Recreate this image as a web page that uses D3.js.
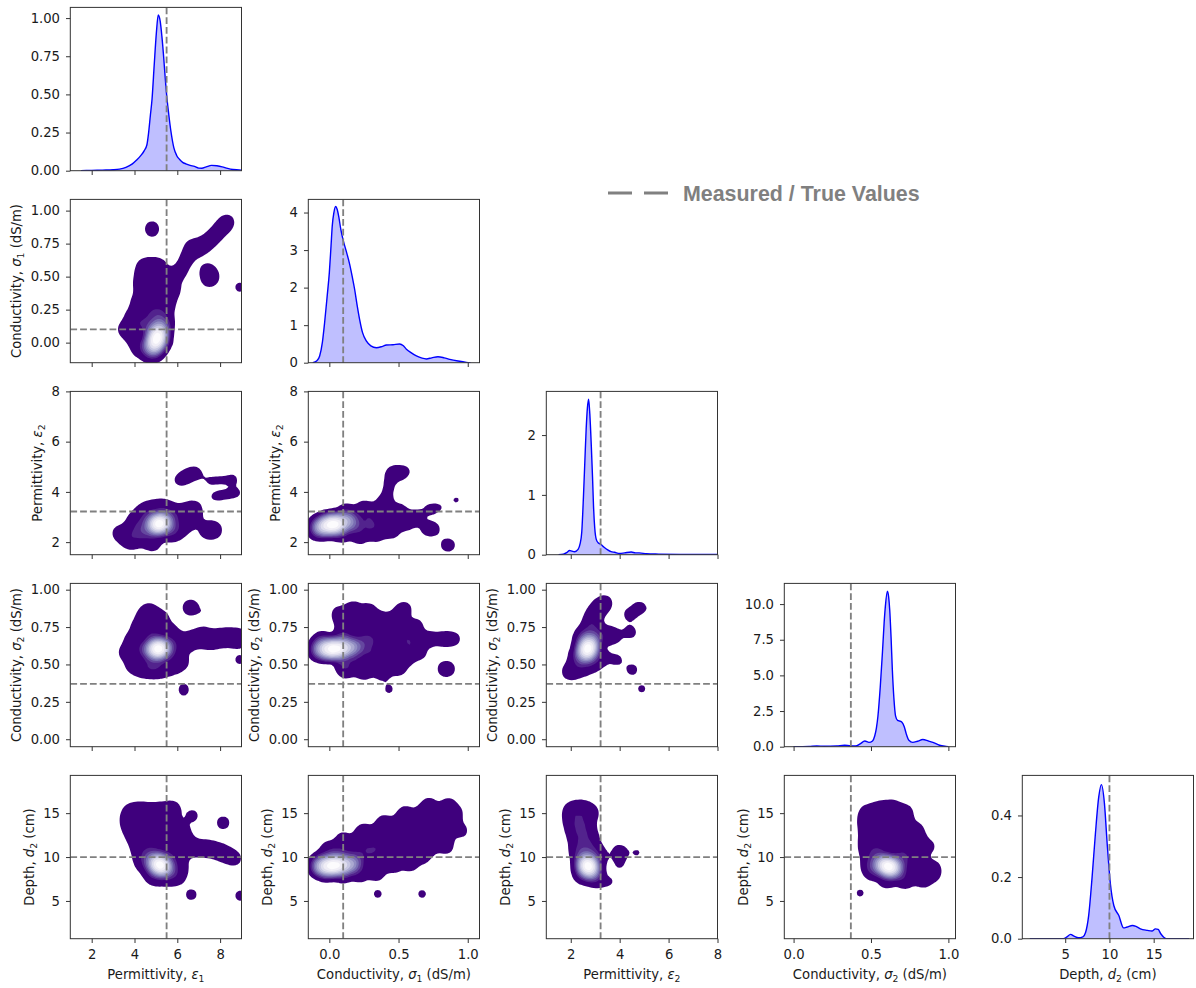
<!DOCTYPE html>
<html>
<head>
<meta charset="utf-8">
<script src="https://cdn.jsdelivr.net/npm/d3@7"></script>
<style>
  body { margin: 0; background: #fff; }
  svg { display: block; }
</style>
</head>
<body>
<svg id="chart" width="1196" height="988"></svg>
<script>
// ---- parameters -------------------------------------------------------
const axisName    = ["Permittivity, ", "Conductivity, ", "Permittivity, ", "Conductivity, ", "Depth, "];
const axisSymbol  = ["ε", "σ", "ε", "σ", "d"];
const axisSub     = ["1", "1", "2", "2", "2"];
const axisUnit    = ["", " (dS/m)", "", " (dS/m)", " (cm)"];
const trueValues  = [5.5, 0.1, 3.22, 0.37, 10];

// axis ranges and ticks
const xDomains     = [[1, 9], [-0.152, 1.085], [1, 8], [-0.06, 1.046], [0.15, 19.5]];
const yDomains     = [null, [-0.152, 1.085], [1.5, 8], [-0.05, 1.042], [0.7, 19.3]];
const xTickValues  = [[2, 4, 6, 8], [0, 0.5, 1], [2, 4, 6, 8], [0, 0.5, 1], [5, 10, 15]];
const xTickFormat  = ["d", ".1f", "d", ".1f", "d"];
const yTickValues  = [null, [0, 0.25, 0.5, 0.75, 1], [2, 4, 6, 8], [0, 0.25, 0.5, 0.75, 1], [5, 10, 15]];
const yTickFormat  = [null, ".2f", "d", ".2f", "d"];
const diagYDomains = [[0, 1.07], [0, 4.35], [0, 2.73], [0, 11.45], [0, 0.53]];
const diagTicks    = [[0, 0.25, 0.5, 0.75, 1], [0, 1, 2, 3, 4], [0, 1, 2], [0, 2.5, 5, 7.5, 10], [0, 0.2, 0.4]];
const diagFormat   = [".2f", "d", "d", ".1f", ".1f"];

// ---- marginal densities [value, density] -----------------------------
const eps1Density = [[1.5,0],[2.0,0.002],[2.5,0.004],[3.0,0.006],[3.3,0.01],[3.6,0.022],[3.9,0.045],[4.1,0.07],[4.3,0.1],[4.45,0.13],[4.58,0.17],[4.66,0.25],[4.74,0.36],[4.82,0.47],[4.92,0.69],[5.02,0.9],[5.11,1.02],[5.2,0.98],[5.28,0.88],[5.36,0.75],[5.44,0.6],[5.52,0.47],[5.6,0.37],[5.7,0.26],[5.84,0.15],[5.97,0.1],[6.1,0.075],[6.25,0.055],[6.4,0.045],[6.6,0.035],[6.8,0.028],[7.0,0.017],[7.15,0.016],[7.35,0.025],[7.6,0.035],[7.85,0.032],[8.1,0.025],[8.35,0.015],[8.6,0.008],[9.0,0.004]];
const sig1Density = [[-0.12,0],[-0.09,0.05],[-0.07,0.18],[-0.05,0.55],[-0.034,1.07],[-0.015,1.8],[0.0,2.4],[0.012,3.1],[0.021,3.64],[0.033,4.0],[0.045,4.16],[0.057,4.08],[0.069,3.87],[0.083,3.55],[0.098,3.29],[0.12,3.0],[0.147,2.62],[0.165,2.3],[0.183,1.95],[0.2,1.55],[0.219,1.15],[0.24,0.8],[0.267,0.58],[0.3,0.45],[0.34,0.4],[0.38,0.43],[0.412,0.47],[0.46,0.48],[0.508,0.5],[0.535,0.45],[0.557,0.36],[0.59,0.27],[0.629,0.18],[0.67,0.12],[0.701,0.1],[0.74,0.13],[0.785,0.16],[0.83,0.13],[0.87,0.09],[0.93,0.045],[0.99,0.01],[1.02,0]];
const eps2Density = [[1.5,0],[1.7,0.01],[1.85,0.04],[1.95,0.07],[2.05,0.06],[2.15,0.05],[2.3,0.09],[2.38,0.18],[2.45,0.38],[2.52,0.98],[2.58,1.6],[2.63,2.1],[2.68,2.45],[2.73,2.6],[2.78,2.35],[2.84,1.82],[2.89,1.3],[2.93,0.82],[2.98,0.45],[3.04,0.26],[3.12,0.2],[3.24,0.17],[3.35,0.13],[3.51,0.08],[3.65,0.05],[3.79,0.04],[4.0,0.02],[4.2,0.03],[4.47,0.045],[4.65,0.03],[4.8,0.03],[5.1,0.015],[5.6,0.01],[6.5,0.005],[8.0,0.003]];
const sig2Density = [[0.0,0],[0.1,0.02],[0.15,0.05],[0.2,0.03],[0.28,0.06],[0.33,0.1],[0.36,0.07],[0.4,0.05],[0.43,0.2],[0.46,0.4],[0.487,0.3],[0.51,0.4],[0.524,0.75],[0.535,1.3],[0.545,2.15],[0.56,4.2],[0.574,6.6],[0.585,8.7],[0.593,9.86],[0.606,10.9],[0.614,10.5],[0.621,9.6],[0.63,7.6],[0.638,5.4],[0.648,3.4],[0.659,2.15],[0.672,1.85],[0.685,1.8],[0.7,1.72],[0.715,1.4],[0.728,0.9],[0.745,0.45],[0.77,0.3],[0.8,0.38],[0.835,0.5],[0.87,0.4],[0.9,0.3],[0.943,0.1],[0.985,0.02],[1.0,0]];
const d2Density   = [[1.0,0],[4.8,0],[5.2,0.006],[5.6,0.014],[6.0,0.008],[6.5,0.003],[7.0,0.006],[7.3,0.02],[7.65,0.075],[8.04,0.2],[8.41,0.34],[8.79,0.46],[9.09,0.5],[9.43,0.44],[9.74,0.31],[10.1,0.18],[10.5,0.107],[11.06,0.075],[11.6,0.035],[12.0,0.038],[12.6,0.043],[13.0,0.04],[13.5,0.032],[14.3,0.027],[14.8,0.025],[15.2,0.032],[15.5,0.03],[15.8,0.016],[16.4,0],[19.0,0]];

// ---- joint posterior samples [x, y, weight] ---------------------------
const sig1VsEps1 = [
  [4.9,-0.04,6],[4.98,0.0,10],[5.05,0.04,12],[5.12,0.08,8],[5.2,0.12,5],
  [4.55,-0.02,1.8],[4.8,-0.09,1.5],[5.35,0.02,1.5],[4.6,0.12,1.8],[4.95,0.2,1.8],[5.3,0.22,1.5],[4.4,0.22,1.2],[4.8,0.3,1.2],
  [4.2,-0.05,0.8],[3.95,0.03,0.8],[3.55,0.1,0.8],[3.95,0.12,0.8],[4.2,0.14,0.8],[3.9,0.2,0.8],[5.45,0.16,0.8],[5.6,0.3,0.8],
  [4.15,0.3,0.8],[4.5,0.34,0.8],[5.1,0.34,0.8],[5.45,0.38,0.8],[5.8,0.4,0.8],[4.3,0.42,0.8],[4.7,0.42,0.8],[5.1,0.44,0.8],
  [4.35,0.5,0.8],[4.75,0.5,0.8],[5.15,0.52,0.8],[5.55,0.48,0.8],[5.9,0.5,0.8],[4.45,0.58,0.8],[4.85,0.58,0.8],[5.15,0.57,0.8],
  [6.2,0.56,0.7],[6.45,0.64,0.7],[6.65,0.72,0.7],[6.95,0.71,0.7],[7.25,0.74,0.7],[7.55,0.78,0.7],[7.85,0.83,0.7],[8.15,0.88,0.7],[8.35,0.92,0.6],
  [4.82,0.84,0.45],[4.82,0.88,0.45],
  [7.4,0.55,0.7],[7.6,0.5,0.7],[7.45,0.47,0.5],
  [8.92,0.42,0.55],[8.69,0.274,0.4]
];
const eps2VsEps1 = [
  [4.95,2.68,6],[5.1,2.72,11],[5.25,2.76,9],[5.4,2.8,4],
  [4.5,2.6,1.8],[4.7,2.9,1.5],[5.6,2.85,1.5],[5.7,2.6,1.5],[4.3,2.4,1.2],[5.3,3.1,1.2],[5.0,2.4,1.5],
  [3.3,2.35,0.8],[3.7,2.3,0.8],[3.75,2.05,0.8],[4.05,2.1,0.8],[4.0,2.55,0.8],[4.0,2.85,0.8],[4.3,3.1,0.8],[4.6,3.3,0.8],
  [5.0,3.35,0.8],[5.4,3.4,0.8],[5.8,3.2,0.8],[6.1,3.05,0.8],[6.4,3.2,0.8],[6.75,3.35,0.8],[6.8,3.0,0.8],[6.5,2.8,0.8],
  [6.2,2.55,0.8],[5.9,2.4,0.8],[5.6,2.35,0.8],[4.5,2.25,0.8],
  [4.7,1.92,0.45],[4.95,1.92,0.45],
  [7.35,2.48,0.6],[7.55,2.48,0.7],[7.75,2.48,0.6],
  [6.05,4.45,0.4],[6.35,4.58,0.45],[6.65,4.7,0.45],[6.92,4.8,0.35],
  [7.38,4.45,0.2],[7.52,4.45,0.2],[7.95,4.5,0.2],[8.09,4.5,0.2],[8.55,4.52,0.24],[8.7,4.53,0.24],
  [7.45,3.78,0.15],[7.65,3.8,0.15],[7.85,3.81,0.15],[8.05,3.83,0.15],[8.25,3.85,0.15],[8.45,3.88,0.15],[8.65,3.91,0.15],[8.85,3.94,0.15],[9.0,3.96,0.15]
];
const eps2VsSig1 = [
  [-0.07,2.6,5],[-0.02,2.66,9],[0.03,2.71,11],[0.08,2.76,8],[0.14,2.81,4],
  [-0.08,2.5,1.5],[0.05,2.5,1.8],[0.2,2.65,1.8],[0.15,2.95,1.5],[0.0,2.9,1.2],[0.3,2.8,1.2],
  [0.1,2.3,0.8],[0.22,2.2,0.8],[0.34,2.3,0.8],[0.45,2.45,0.8],[0.3,2.55,0.8],[0.42,2.65,0.8],[0.55,2.75,0.8],
  [0.5,2.95,0.8],[0.62,3.0,0.8],[0.4,3.0,0.8],[0.28,3.15,0.8],[0.12,3.25,0.8],[0.25,3.35,0.8],[0.38,3.4,0.8],[0.5,3.25,0.8],
  [0.41,3.65,0.4],[0.42,3.95,0.32],[0.43,4.25,0.32],[0.44,4.55,0.32],[0.44,4.85,0.32],
  [0.5,4.9,0.32],[0.57,4.88,0.3],[0.53,4.57,0.3],
  [0.72,3.3,0.5],[0.8,3.38,0.4],
  [0.7,2.52,0.55],[0.76,2.52,0.55],
  [0.84,1.88,0.4],[0.875,1.88,0.4],
  [0.918,3.68,0.45],[0.267,4.45,0.35]
];
const sig2VsEps1 = [
  [4.85,0.6,5],[5.02,0.603,10],[5.18,0.606,11],[5.35,0.61,5],
  [4.5,0.6,1.8],[5.6,0.62,1.5],[5.0,0.7,1.5],[5.1,0.52,1.5],[4.6,0.72,1.2],[4.7,0.5,1.2],
  [3.6,0.58,0.8],[3.9,0.5,0.8],[4.25,0.47,0.8],[4.7,0.46,0.8],[5.15,0.46,0.8],[5.55,0.48,0.8],[5.9,0.5,0.8],[6.2,0.52,0.8],
  [3.85,0.66,0.8],[4.15,0.74,0.8],[4.4,0.81,0.8],[4.65,0.86,0.8],[4.95,0.82,0.8],[5.3,0.8,0.8],[5.7,0.72,0.8],[6.0,0.66,0.8],
  [6.3,0.62,0.8],[6.6,0.67,0.8],[6.9,0.66,0.8],[7.2,0.7,0.8],[7.5,0.65,0.8],[7.8,0.68,0.8],[8.1,0.67,0.8],[8.4,0.69,0.8],
  [8.7,0.67,0.8],[9.0,0.68,0.8],[4.2,0.6,0.8],[5.8,0.58,0.8],
  [6.55,0.88,0.5],[6.7,0.88,0.5],[7.38,0.835,0.4],[8.92,0.532,0.55],[6.3,0.355,0.35],[6.3,0.305,0.35]
];
const sig2VsSig1 = [
  [-0.07,0.6,5],[-0.01,0.6,9],[0.04,0.605,11],[0.1,0.61,8],[0.16,0.615,4],
  [-0.05,0.66,1.5],[0.1,0.52,1.5],[0.2,0.62,1.8],[0.1,0.7,1.5],[0.3,0.66,1.2],
  [0.12,0.46,1],[0.25,0.45,1],[0.38,0.45,1],[0.5,0.48,1],[0.56,0.55,1],[0.3,0.55,1],[0.45,0.6,1],[0.6,0.64,1],
  [0.72,0.67,0.9],[0.82,0.67,0.8],[0.9,0.67,0.7],[0.38,0.7,1],[0.5,0.72,1],[0.62,0.75,1],[0.2,0.78,1],[0.35,0.8,1],
  [0.1,0.8,1],[0.17,0.87,0.9],[0.28,0.86,0.9],[0.5,0.82,0.9],[0.54,0.87,0.8],[0.07,0.84,0.7],
  [0.25,0.62,1],[0.36,0.58,1],[0.55,0.66,1],[0.45,0.52,1],[0.65,0.58,0.8],[0.42,0.78,1],[0.25,0.72,1],[0.2,0.52,1],
  [0.83,0.47,0.55],[0.86,0.47,0.55],[0.43,0.335,0.5]
];
const sig2VsEps2 = [
  [2.6,0.57,5],[2.67,0.595,10],[2.74,0.625,9],[2.8,0.655,4],
  [2.45,0.55,1.5],[2.55,0.68,1.5],[2.85,0.6,1.2],[2.9,0.75,1.2],
  [1.95,0.45,0.8],[2.2,0.47,0.8],[2.2,0.55,0.8],[2.5,0.48,0.8],[2.8,0.5,0.8],[3.05,0.52,0.8],[3.25,0.56,0.8],[2.4,0.64,0.8],
  [2.65,0.72,0.8],[3.0,0.66,0.8],[3.2,0.7,0.8],[3.45,0.7,0.8],[3.75,0.69,0.8],[2.85,0.8,0.8],[3.0,0.84,0.8],[3.15,0.88,0.8],[3.4,0.91,0.8],
  [3.86,0.532,0.6],[4.4,0.834,0.6],[4.81,0.879,0.65],[5.51,0.863,0.4],[4.43,0.715,0.65],[4.51,0.465,0.6],[4.9,0.337,0.5]
];
const d2VsEps1 = [
  [4.95,9.5,5],[5.07,9.3,9],[5.2,9.1,11],[5.33,8.9,8],[5.45,8.7,4],
  [4.6,9.8,1.8],[4.8,10.8,1.5],[5.5,9.8,1.5],[5.0,8.3,1.5],[4.7,8.8,1.2],[5.7,8.6,1.2],[4.6,12.0,1.0],[5.2,11.5,1.0],
  [3.8,15.2,0.8],[4.2,15.3,0.8],[4.6,15.2,0.8],[5.0,15.2,0.8],[5.4,15.3,0.8],[5.8,15.5,0.8],
  [3.7,14.2,0.8],[4.1,14.2,0.8],[4.5,14.2,0.8],[4.9,14.2,0.8],[5.3,14.2,0.8],[5.7,14.2,0.8],
  [3.8,13.2,0.8],[4.2,13.2,0.8],[4.6,13.2,0.8],[5.0,13.2,0.8],[5.4,13.2,0.8],[5.8,13.2,0.8],[6.2,13.0,0.8],
  [4.0,12.2,0.8],[4.4,12.2,0.8],[5.6,12.2,0.8],[6.0,12.2,0.8],[6.4,12.0,0.8],
  [4.2,11.2,0.8],[5.6,11.2,0.8],[6.0,11.2,0.8],[6.4,11.0,0.8],[6.8,11.0,0.8],[7.2,11.0,0.8],[7.6,10.9,0.8],[8.0,10.6,0.8],
  [8.35,10.2,0.7],[8.7,9.8,0.6],
  [4.3,10.3,0.8],[6.0,10.2,0.8],[4.4,9.4,0.8],[6.1,9.5,0.8],[6.1,8.5,0.8],[4.9,7.7,0.8],[5.3,7.7,0.8],[5.7,7.7,0.8],[6.0,7.8,0.8],
  [6.69,14.7,0.65],[8.14,13.9,0.7],[6.65,5.72,0.6],[8.95,5.6,0.6]
];
const d2VsSig1 = [
  [-0.07,9.0,5],[-0.01,9.0,9],[0.04,9.05,11],[0.1,9.1,8],[0.16,9.15,4],
  [0.2,9.3,1.5],[0.05,10.3,1.5],[0.3,10.5,1.2],[-0.05,8.5,1.2],
  [-0.02,7.9,0.8],[0.1,7.8,0.8],[0.22,7.9,0.8],[0.34,8.1,0.8],
  [0.34,9.0,0.8],[0.46,9.0,0.8],[0.58,9.2,0.8],
  [-0.05,10.0,0.8],[0.19,10.0,0.8],[0.43,10.0,0.8],[0.55,10.0,0.8],[0.67,10.0,0.8],
  [0.0,11.0,0.8],[0.12,11.0,0.8],[0.24,11.0,0.8],[0.36,11.0,0.8],[0.48,11.0,0.8],[0.6,11.0,0.8],[0.72,11.0,0.8],[0.84,11.2,0.8],
  [0.1,12.0,0.8],[0.22,12.0,0.8],[0.34,12.0,0.8],[0.46,12.0,0.8],[0.58,12.0,0.8],[0.7,12.0,0.8],[0.82,12.0,0.8],
  [0.25,13.0,0.8],[0.37,13.0,0.8],[0.49,13.0,0.8],[0.61,13.0,0.8],[0.73,13.0,0.8],[0.85,13.0,0.8],[0.95,13.0,0.7],
  [0.4,14.0,0.8],[0.52,14.0,0.8],[0.64,14.0,0.8],[0.76,14.0,0.8],[0.88,14.0,0.8],
  [0.55,15.0,0.8],[0.67,15.0,0.8],[0.79,15.0,0.8],[0.91,15.0,0.8],
  [0.72,16.0,0.7],[0.86,16.0,0.7],
  [0.35,5.8,0.5],[0.67,5.8,0.5]
];
const d2VsEps2 = [
  [2.6,9.4,5],[2.68,9.1,10],[2.76,8.8,8],[2.84,8.5,4],
  [2.5,10.5,1.5],[2.8,10.0,1.2],[2.5,8.2,1.2],[2.9,8.0,1.2],
  [2.0,15.3,0.8],[2.3,15.5,0.8],[2.6,15.4,0.8],[2.85,15.0,0.7],
  [2.0,14.3,0.8],[2.3,14.3,0.8],[2.6,14.2,0.8],
  [2.1,13.3,0.8],[2.4,13.3,0.8],[2.7,13.2,0.8],
  [2.2,12.3,0.8],[2.5,12.3,0.8],[2.8,12.2,0.8],
  [2.3,11.3,0.8],[2.6,11.3,0.8],[2.9,11.2,0.8],
  [2.3,10.4,0.8],[2.9,10.4,0.8],[3.2,10.2,0.7],
  [2.4,9.0,0.8],[3.05,9.2,0.8],
  [2.5,8.0,0.8],[2.9,7.8,0.8],[3.1,7.4,0.7],
  [4.0,10.75,0.45],[3.98,10.35,0.4],[4.0,9.1,0.45],[3.6,7.2,0.45],[4.7,10.5,0.45],[5.55,12.2,0.32]
];
const d2VsSig2 = [
  [0.57,9.2,5],[0.6,9.0,10],[0.63,8.85,8],[0.66,8.7,4],
  [0.55,10.3,1.5],[0.68,9.8,1.2],[0.62,8.0,1.2],[0.5,8.8,1.2],
  [0.48,15.2,0.7],[0.56,15.6,0.8],[0.64,15.7,0.8],[0.72,15.2,0.7],
  [0.47,14.4,0.8],[0.55,14.4,0.8],[0.63,14.4,0.8],[0.71,14.4,0.8],
  [0.47,13.4,0.8],[0.55,13.4,0.8],[0.63,13.4,0.8],[0.71,13.4,0.8],[0.79,13.2,0.7],
  [0.48,12.4,0.8],[0.56,12.4,0.8],[0.64,12.4,0.8],[0.72,12.4,0.8],[0.8,12.2,0.8],
  [0.47,11.4,0.8],[0.55,11.4,0.8],[0.63,11.4,0.8],[0.71,11.4,0.8],[0.79,11.4,0.8],[0.87,11.2,0.7],
  [0.48,10.4,0.8],[0.72,10.4,0.8],[0.8,10.4,0.8],
  [0.5,9.3,0.8],[0.74,9.4,0.8],[0.82,9.3,0.8],
  [0.52,8.2,0.8],[0.7,8.0,0.8],[0.8,8.0,0.8],[0.9,8.0,0.7],[0.9,8.8,0.7],
  [0.6,7.3,0.8],[0.72,7.2,0.8],[0.84,7.3,0.7],
  [0.86,15.4,0.35],[0.43,5.9,0.5]
];

// ---- layout -------------------------------------------------------------
const W = 1196, H = 988;
const pw = 171.2, ph = 163.3;
const left0 = 70.3, colStep = 238, top0 = 7.4, rowStep = 192;
const fontSize = 13.2;
const tickLen = 4.3;
const kdeBandwidth = 5;      // px
const outerWeight = 0.3;     // weight units at the outermost contour
const levelFractions = [0.09, 0.14, 0.2, 0.27, 0.35, 0.45, 0.57, 0.71, 0.86];
const baseFont = "DejaVu Sans, sans-serif";

const densityCurves = [eps1Density, sig1Density, eps2Density, sig2Density, d2Density];
const jointSamples = {
  "1-0": sig1VsEps1,
  "2-0": eps2VsEps1, "2-1": eps2VsSig1,
  "3-0": sig2VsEps1, "3-1": sig2VsSig1, "3-2": sig2VsEps2,
  "4-0": d2VsEps1, "4-1": d2VsSig1, "4-2": d2VsEps2, "4-3": d2VsSig2
};

const svg = d3.select("#chart");
svg.append("rect").attr("width", W).attr("height", H).attr("fill", "#fff");

function addAxisLabel(sel, i) {
  sel.append("tspan").text(axisName[i]);
  sel.append("tspan").style("font-style", "italic").text(axisSymbol[i]);
  sel.append("tspan").style("font-size", (fontSize * 0.7) + "px").attr("dy", 3.2).text(axisSub[i]);
  if (axisUnit[i]) sel.append("tspan").attr("dy", -3.2).text(axisUnit[i]);
}

function drawKde(plot, pts, x, y) {
  const bw = kdeBandwidth;
  const estimator = d3.contourDensity()
    .x(d => x(d[0])).y(d => y(d[1])).weight(d => d[2])
    .size([pw, ph]).cellSize(2).bandwidth(bw);
  let contourAt, maxDensity;
  if (typeof estimator.contours === "function") {
    const cf = estimator.contours(pts);
    contourAt = v => cf(v);
    maxDensity = cf.max;
  } else {
    const probe = estimator.thresholds(d3.range(1, 600).map(k => k * 2e-4))(pts);
    maxDensity = d3.max(probe.filter(c => c.coordinates.length), c => c.value);
    contourAt = v => estimator.thresholds([v])(pts)[0];
  }
  const floor = outerWeight / (2 * Math.PI * bw * bw);
  const nLevels = levelFractions.length + 1;
  const levels = [[floor, 0]];
  levelFractions.forEach((f, k) => { if (f * maxDensity > floor) levels.push([f * maxDensity, k + 1]); });
  const path = d3.geoPath();
  levels.forEach(([v, k]) => {
    plot.append("path")
      .attr("d", path(contourAt(v)))
      .attr("fill", d3.interpolatePurples(1 - k / (nLevels - 1)))
      .attr("stroke", "none");
  });
}

function panel(r, c) {
  const diag = r === c;
  const g = svg.append("g").attr("transform", `translate(${left0 + c * colStep},${top0 + r * rowStep})`);
  const x = d3.scaleLinear().domain(xDomains[c]).range([0, pw]);
  const y = d3.scaleLinear().domain(diag ? diagYDomains[r] : yDomains[r]).range([ph, 0]);
  const clipId = `clip-${r}-${c}`;
  g.append("clipPath").attr("id", clipId).append("rect").attr("width", pw).attr("height", ph);
  const plot = g.append("g").attr("clip-path", `url(#${clipId})`);

  if (diag) {
    const data = densityCurves[r];
    const area = d3.area().x(d => x(d[0])).y0(y(0)).y1(d => y(d[1])).curve(d3.curveMonotoneX);
    const line = d3.line().x(d => x(d[0])).y(d => y(d[1])).curve(d3.curveMonotoneX);
    plot.append("path").attr("d", area(data)).attr("fill", "#0000ff").attr("fill-opacity", 0.25);
    plot.append("path").attr("d", line(data)).attr("fill", "none").attr("stroke", "#0000ff").attr("stroke-width", 1.4);
  } else {
    drawKde(plot, jointSamples[`${r}-${c}`], x, y);
  }

  // measured / true value markers
  const dash = "6.8 3";
  plot.append("line").attr("x1", x(trueValues[c])).attr("x2", x(trueValues[c]))
    .attr("y1", 0).attr("y2", ph).attr("stroke", "#808080").attr("stroke-width", 1.85).attr("stroke-dasharray", dash);
  if (!diag) {
    plot.append("line").attr("x1", 0).attr("x2", pw).attr("y1", y(trueValues[r])).attr("y2", y(trueValues[r]))
      .attr("stroke", "#808080").attr("stroke-width", 1.85).attr("stroke-dasharray", dash);
  }

  // frame
  g.append("rect").attr("width", pw).attr("height", ph).attr("fill", "none")
    .attr("stroke", "#333").attr("stroke-width", 1);

  // x axis
  const xAxis = d3.axisBottom(x).tickValues(xTickValues[c]).tickSize(tickLen).tickPadding(6.8)
    .tickFormat(d3.format(xTickFormat[c]));
  const gx = g.append("g").attr("transform", `translate(0,${ph})`).call(xAxis);
  gx.select(".domain").remove();
  if (r !== 4) gx.selectAll(".tick text").remove();

  // y axis
  const yAxis = d3.axisLeft(y)
    .tickValues(diag ? diagTicks[r] : yTickValues[r])
    .tickSize(tickLen).tickPadding(6)
    .tickFormat(d3.format(diag ? diagFormat[r] : yTickFormat[r]));
  const gy = g.append("g").call(yAxis);
  gy.select(".domain").remove();

  [gx, gy].forEach(a => {
    a.attr("font-family", null).attr("font-size", null);
    a.selectAll(".tick line").attr("stroke", "#333").attr("stroke-width", 1);
    a.selectAll(".tick text").style("font-size", fontSize + "px").style("font-family", baseFont).attr("fill", "#1a1a1a");
  });

  if (!diag) {
    const tickLeft = d3.min(gy.selectAll(".tick text").nodes(), n => n.getBBox().x);
    const lab = g.append("text")
      .attr("transform", `translate(${tickLeft - 9.5},${ph / 2}) rotate(-90)`)
      .attr("text-anchor", "middle").style("font-size", fontSize + "px").style("font-family", baseFont)
      .attr("fill", "#1a1a1a");
    addAxisLabel(lab, r);
  }
  if (r === 4) {
    const lab = g.append("text")
      .attr("x", pw / 2).attr("y", ph + 40)
      .attr("text-anchor", "middle").style("font-size", fontSize + "px").style("font-family", baseFont)
      .attr("fill", "#1a1a1a");
    addAxisLabel(lab, c);
  }
}

for (let r = 0; r < 5; r++) for (let c = 0; c <= r; c++) panel(r, c);

// figure legend
const legend = svg.append("g");
legend.append("line").attr("x1", 608).attr("x2", 668).attr("y1", 193).attr("y2", 193)
  .attr("stroke", "#808080").attr("stroke-width", 3).attr("stroke-dasharray", "24 12");
legend.append("text").attr("x", 683).attr("y", 200.5)
  .style("font-family", "'Liberation Sans', Arial, sans-serif").style("font-weight", "bold")
  .style("font-size", "21.4px").attr("fill", "#808080").text("Measured / True Values");
</script>
</body>
</html>
